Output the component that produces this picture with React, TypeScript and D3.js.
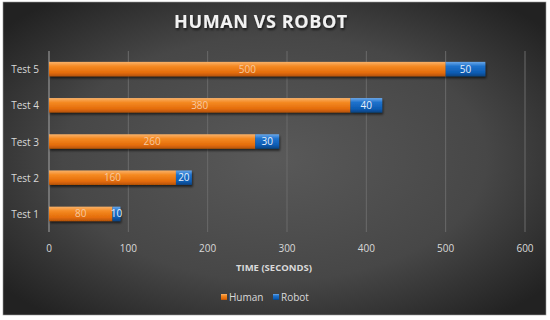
import { useEffect, useRef } from 'react';
import * as d3 from 'd3';

const categories = ['Test 1', 'Test 2', 'Test 3', 'Test 4', 'Test 5'];
const human = [80, 160, 260, 380, 500];
const robot = [10, 20, 30, 40, 50];
const ticks = [0, 100, 200, 300, 400, 500, 600];

export default function App() {
  const svgRef = useRef<SVGSVGElement | null>(null);

  useEffect(() => {
    document.body.style.margin = '0';
    if (!svgRef.current) return;
    const width = 550;
    const height = 320;
    const font = 'Open Sans, Lato, sans-serif';

    const svg = d3.select(svgRef.current);
    svg.selectAll('*').remove();
    svg.attr('width', width).attr('height', height);

    const defs = svg.append('defs');
    const bg = defs.append('radialGradient').attr('id', 'bg')
      .attr('cx', '50%').attr('cy', '50%').attr('r', '65%');
    bg.append('stop').attr('offset', '0%').attr('stop-color', '#595959');
    bg.append('stop').attr('offset', '60%').attr('stop-color', '#474747');
    bg.append('stop').attr('offset', '100%').attr('stop-color', '#222');

    const og = defs.append('linearGradient').attr('id', 'orange')
      .attr('x1', 0).attr('y1', 0).attr('x2', 0).attr('y2', 1);
    og.append('stop').attr('offset', '0%').attr('stop-color', '#f9b26a');
    og.append('stop').attr('offset', '30%').attr('stop-color', '#f58a22');
    og.append('stop').attr('offset', '75%').attr('stop-color', '#e46c0a');
    og.append('stop').attr('offset', '100%').attr('stop-color', '#b45206');

    const bgr = defs.append('linearGradient').attr('id', 'blue')
      .attr('x1', 0).attr('y1', 0).attr('x2', 0).attr('y2', 1);
    bgr.append('stop').attr('offset', '0%').attr('stop-color', '#6aa8ea');
    bgr.append('stop').attr('offset', '30%').attr('stop-color', '#1f72cc');
    bgr.append('stop').attr('offset', '75%').attr('stop-color', '#0d5cb3');
    bgr.append('stop').attr('offset', '100%').attr('stop-color', '#08427f');

    const shadow = defs.append('filter').attr('id', 'shadow')
      .attr('x', '-10%').attr('y', '-30%').attr('width', '120%').attr('height', '180%');
    shadow.append('feDropShadow').attr('dx', 1).attr('dy', 2).attr('stdDeviation', 1.2)
      .attr('flood-color', '#000').attr('flood-opacity', 0.6);

    svg.append('rect').attr('width', width).attr('height', height).attr('fill', '#fff');
    svg.append('rect').attr('x', 3).attr('y', 2).attr('width', 543).attr('height', 313)
      .attr('fill', 'url(#bg)').attr('stroke', '#9a9a9a').attr('stroke-width', 0.6);

    const margin = { top: 51, left: 49, right: 25, bottom: 88 };
    const x = d3.scaleLinear().domain([0, 600]).range([margin.left, 525]);
    const y = d3.scaleBand().domain([...categories].reverse()).range([margin.top, height - margin.bottom]).paddingInner(0.6).paddingOuter(0.3);

    // title
    svg.append('text').attr('x', 261).attr('y', 28).attr('text-anchor', 'middle')
      .style('font-family', font).style('font-weight', 700).style('font-size', '18px')
      .style('letter-spacing', '0.6px')
      .attr('fill', '#f2f2f2').attr('filter', 'url(#shadow)').text('HUMAN VS ROBOT');

    // gridlines
    svg.append('g').selectAll('line').data(ticks.slice(1)).enter().append('line')
      .attr('x1', d => x(d)).attr('x2', d => x(d))
      .attr('y1', margin.top).attr('y2', height - margin.bottom)
      .attr('stroke', '#6a6a6a').attr('stroke-width', 1);

    // y axis line
    svg.append('line').attr('x1', x(0)).attr('x2', x(0))
      .attr('y1', margin.top).attr('y2', height - margin.bottom)
      .attr('stroke', '#a6a6a6').attr('stroke-width', 1);

    // x tick labels
    svg.append('g').selectAll('text').data(ticks).enter().append('text')
      .attr('x', d => x(d)).attr('y', 252).attr('text-anchor', 'middle')
      .style('font-family', font).style('font-size', '10px').attr('fill', '#d9d9d9')
      .text(d => d);

    svg.append('text').attr('x', 274).attr('y', 271).attr('text-anchor', 'middle')
      .style('font-family', font).style('font-size', '9.5px').style('font-weight', 700)
      .attr('fill', '#d9d9d9').text('TIME (SECONDS)');

    // category labels
    svg.append('g').selectAll('text').data(categories).enter().append('text')
      .attr('x', 39).attr('y', d => (y(d) as number) + y.bandwidth() / 2 + 4)
      .attr('text-anchor', 'end')
      .style('font-family', font).style('font-size', '10px').attr('fill', '#d9d9d9')
      .text(d => d);

    const bars = svg.append('g').attr('filter', 'url(#shadow)');
    bars.selectAll('.h').data(categories).enter().append('rect')
      .attr('x', x(0)).attr('y', d => y(d) as number)
      .attr('width', (d, i) => x(human[i]) - x(0)).attr('height', y.bandwidth())
      .attr('fill', 'url(#orange)');
    bars.selectAll('.r').data(categories).enter().append('rect')
      .attr('x', (d, i) => x(human[i])).attr('y', d => y(d) as number)
      .attr('width', (d, i) => x(human[i] + robot[i]) - x(human[i])).attr('height', y.bandwidth())
      .attr('fill', 'url(#blue)');

    svg.append('g').selectAll('text').data(categories).enter().append('text')
      .attr('x', (d, i) => x(human[i] / 2)).attr('y', d => (y(d) as number) + y.bandwidth() / 2 + 3.5)
      .attr('text-anchor', 'middle')
      .style('font-family', font).style('font-size', '10px').attr('fill', '#f6c9a1')
      .text((d, i) => human[i]);
    svg.append('g').selectAll('text').data(categories).enter().append('text')
      .attr('x', (d, i) => x(human[i] + robot[i] / 2)).attr('y', d => (y(d) as number) + y.bandwidth() / 2 + 3.5)
      .attr('text-anchor', 'middle')
      .style('font-family', font).style('font-size', '10px').attr('fill', '#e8f0fa')
      .text((d, i) => robot[i]);

    // legend
    const legend = [{ name: 'Human', fill: 'url(#orange)', x: 221 }, { name: 'Robot', fill: 'url(#blue)', x: 273 }];
    const lg = svg.append('g').selectAll('g').data(legend).enter().append('g')
      .attr('transform', d => `translate(${d.x},298)`);
    lg.append('rect').attr('x', 0).attr('y', -4).attr('width', 6).attr('height', 6).attr('fill', d => d.fill);
    lg.append('text').attr('x', 8).attr('y', 3)
      .style('font-family', font).style('font-size', '10px').attr('fill', '#d9d9d9')
      .text(d => d.name);
  }, []);

  return <svg ref={svgRef}></svg>;
}
